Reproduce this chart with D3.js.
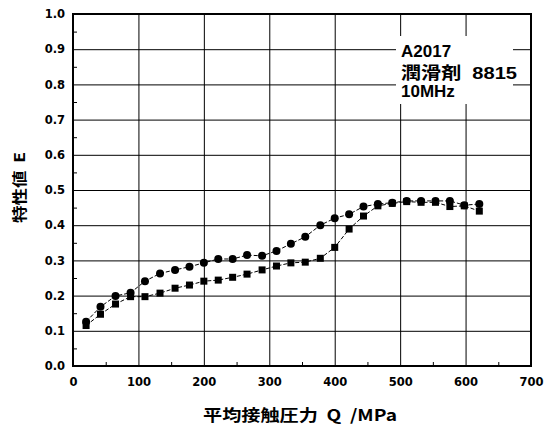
<!DOCTYPE html>
<html>
<head>
<meta charset="utf-8">
<script src="https://cdn.jsdelivr.net/npm/d3@7"></script>
<style>
  body { margin: 0; background: #fff; }
  svg { display: block; }
  text { white-space: pre; }
</style>
</head>
<body>
<svg id="chart" width="545" height="426"></svg>
<script>
// data
const pressure = [20, 42, 65, 88, 110, 133, 156, 178, 200, 222, 244, 266, 289, 311,
  333, 355, 378, 400, 422, 444, 466, 488, 510, 532, 554, 576, 598, 621];
const circleE = [0.126, 0.168, 0.199, 0.208, 0.241, 0.263, 0.273, 0.282, 0.293, 0.304, 0.304, 0.315, 0.313, 0.327,
  0.347, 0.367, 0.400, 0.420, 0.431, 0.453, 0.460, 0.464, 0.469, 0.469, 0.469, 0.469, 0.457, 0.460];
const squareE = [0.115, 0.147, 0.176, 0.197, 0.197, 0.207, 0.221, 0.230, 0.241, 0.244, 0.252, 0.261, 0.273, 0.284,
  0.293, 0.295, 0.306, 0.337, 0.389, 0.426, 0.455, 0.462, 0.467, 0.465, 0.465, 0.453, 0.455, 0.440];
const xTicks = [0, 100, 200, 300, 400, 500, 600, 700];
const yTicks = [0, 0.1, 0.2, 0.3, 0.4, 0.5, 0.6, 0.7, 0.8, 0.9, 1.0];
const noteLines = ["A2017", "潤滑剤  8815", "10MHz"];

const svg = d3.select("#chart");
const mLeft = 73, mRight = 531, mTop = 14, mBottom = 366;

const x = d3.scaleLinear().domain([0, 700]).range([mLeft, mRight]);
const y = d3.scaleLinear().domain([0, 1]).range([mBottom, mTop]);

const tickFont = "'DejaVu Sans', sans-serif";

// grid lines
svg.append("g")
  .attr("transform", `translate(0,${mBottom})`)
  .call(d3.axisBottom(x).tickValues(xTicks).tickSize(-(mBottom - mTop)).tickFormat(""))
  .call(g => g.select(".domain").remove())
  .selectAll("line").attr("stroke", "#000").attr("stroke-width", 1);

svg.append("g")
  .attr("transform", `translate(${mLeft},0)`)
  .call(d3.axisLeft(y).tickValues(yTicks).tickSize(-(mRight - mLeft)).tickFormat(""))
  .call(g => g.select(".domain").remove())
  .selectAll("line").attr("stroke", "#000").attr("stroke-width", 1);

// minor ticks, pointing inward
svg.append("g")
  .attr("transform", `translate(0,${mBottom})`)
  .call(d3.axisBottom(x).tickValues(d3.range(50, 700, 100)).tickSize(-4).tickFormat(""))
  .call(g => g.select(".domain").remove())
  .selectAll("line").attr("stroke", "#000");

svg.append("g")
  .attr("transform", `translate(${mLeft},0)`)
  .call(d3.axisLeft(y).tickValues(d3.range(0.05, 1, 0.1)).tickSize(-4).tickFormat(""))
  .call(g => g.select(".domain").remove())
  .selectAll("line").attr("stroke", "#000");

// tick labels
svg.append("g")
  .attr("transform", `translate(0,${mBottom})`)
  .call(d3.axisBottom(x).tickValues(xTicks).tickSize(0).tickPadding(12).tickFormat(d3.format("d")))
  .call(g => g.select(".domain").remove())
  .selectAll("text")
  .attr("fill", "#000")
  .style("font-family", tickFont).style("font-weight", "bold").style("font-size", "11.5px");

svg.append("g")
  .attr("transform", `translate(${mLeft},0)`)
  .call(d3.axisLeft(y).tickValues(yTicks).tickSize(0).tickPadding(8).tickFormat(d3.format(".1f")))
  .call(g => g.select(".domain").remove())
  .selectAll("text")
  .attr("fill", "#000")
  .style("font-family", tickFont).style("font-weight", "bold").style("font-size", "11.5px");

// note box (white behind text hides grid)
svg.append("rect")
  .attr("x", 396).attr("y", 36).attr("width", 117).attr("height", 68)
  .attr("fill", "#fff");

const note = svg.append("text")
  .attr("x", 401)
  .style("font-family", "'Liberation Sans', 'Noto Sans CJK JP', sans-serif")
  .style("font-weight", "bold").style("font-size", "17px");
note.append("tspan").attr("x", 401).attr("y", 57).text(noteLines[0]);
note.append("tspan").attr("x", 401).attr("y", 79)
  .attr("textLength", 116).attr("lengthAdjust", "spacingAndGlyphs").text(noteLines[1]);
note.append("tspan").attr("x", 401).attr("y", 97).text(noteLines[2]);

// frame
svg.append("rect")
  .attr("x", mLeft).attr("y", mTop)
  .attr("width", mRight - mLeft).attr("height", mBottom - mTop)
  .attr("fill", "none").attr("stroke", "#000").attr("stroke-width", 2);

// series
const line = d3.line().x(d => x(d[0])).y(d => y(d[1]));
const circles = pressure.map((p, i) => [p, circleE[i]]);
const squares = pressure.map((p, i) => [p, squareE[i]]);

svg.append("path").datum(squares).attr("d", line)
  .attr("fill", "none").attr("stroke", "#000").attr("stroke-width", 1).attr("stroke-dasharray", "4,2");
svg.append("path").datum(circles).attr("d", line)
  .attr("fill", "none").attr("stroke", "#000").attr("stroke-width", 1).attr("stroke-dasharray", "4,2");

svg.append("g").selectAll("rect").data(squares).join("rect")
  .attr("x", d => x(d[0]) - 3.5).attr("y", d => y(d[1]) - 3.5)
  .attr("width", 7).attr("height", 7).attr("fill", "#000");

svg.append("g").selectAll("circle").data(circles).join("circle")
  .attr("cx", d => x(d[0])).attr("cy", d => y(d[1]))
  .attr("r", 4).attr("fill", "#000");

// axis titles
svg.append("text")
  .attr("x", 203).attr("y", 421)
  .attr("textLength", 194).attr("lengthAdjust", "spacingAndGlyphs")
  .style("font-family", "'Noto Sans CJK JP', sans-serif")
  .style("font-weight", "bold").style("font-size", "16px")
  .text("平均接触圧力  Q  /MPa");

svg.append("text")
  .attr("transform", "translate(25,223) rotate(-90)")
  .attr("textLength", 71).attr("lengthAdjust", "spacingAndGlyphs")
  .style("font-family", "'Noto Sans CJK JP', sans-serif")
  .style("font-weight", "bold").style("font-size", "15px")
  .text("特性値  E");
</script>
</body>
</html>
